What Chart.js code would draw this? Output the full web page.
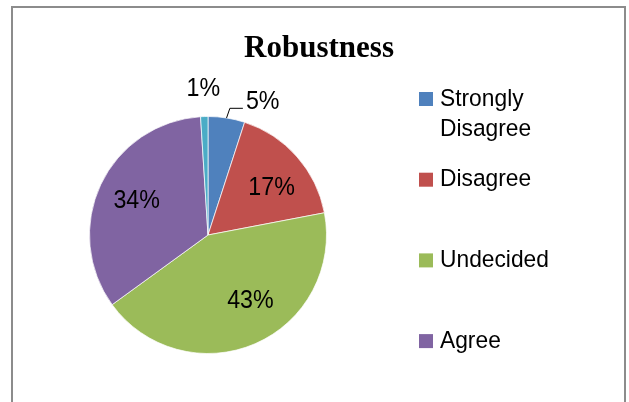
<!DOCTYPE html>
<html>
<head>
<meta charset="utf-8">
<title>Robustness</title>
<script src="https://cdn.jsdelivr.net/npm/chart.js@4.4.1/dist/chart.umd.min.js"></script>
<style>
    html, body { margin: 0; padding: 0; background: #fff; overflow: hidden; }
    #wrap { position: relative; width: 629px; height: 402px; }
    canvas { display: block; }
</style>
</head>
<body>
<div id="wrap"><canvas id="robustness-chart" width="629" height="402"></canvas></div>
<script>
// 回答データ
const chartTitle = 'Robustness';
const categories = ['Strongly Disagree', 'Disagree', 'Undecided', 'Agree', 'Strongly Agree'];
const percentages = [5, 17, 43, 34, 1];
const sliceColors = ['#4F81BD', '#C0504D', '#9BBB59', '#8064A2', '#4BACC6'];

const labelFont = '25px "Liberation Sans", Arial, sans-serif';
const legendFont = '24.5px "Liberation Sans", Arial, sans-serif';
const textSquash = 0.93; // 文字を少し細長く

// 横方向に縮めて文字を描く
function drawText(ctx, text, x, y, align, baseline) {
    ctx.save();
    ctx.translate(x, y);
    ctx.scale(textSquash, 1);
    ctx.textAlign = align;
    ctx.textBaseline = baseline;
    ctx.fillText(text, 0, 0);
    ctx.restore();
}

// 外枠とタイトル
const frameAndTitle = {
    id: 'frameAndTitle',
    beforeDraw(chart) {
        const ctx = chart.ctx;
        ctx.save();
        ctx.fillStyle = '#fff';
        ctx.fillRect(0, 0, chart.width, chart.height);
        ctx.strokeStyle = '#8c8c8c';
        ctx.lineWidth = 2;
        ctx.strokeRect(12, 7, 613, 520);
        ctx.restore();
    },
    afterDraw(chart) {
        const ctx = chart.ctx;
        ctx.save();
        ctx.font = 'bold 31px "Liberation Serif", "Times New Roman", serif';
        ctx.fillStyle = '#000';
        ctx.textAlign = 'center';
        ctx.textBaseline = 'alphabetic';
        ctx.fillText(chartTitle, 319, 57);
        ctx.restore();
    }
};

// 凡例（右側、折り返しあり）
function wrapText(ctx, text, maxWidth) {
    const words = text.split(' ');
    const lines = [];
    let line = '';
    words.forEach(w => {
        const test = line ? line + ' ' + w : w;
        if (line && ctx.measureText(test).width * textSquash > maxWidth) {
            lines.push(line);
            line = w;
        } else {
            line = test;
        }
    });
    if (line) lines.push(line);
    return lines;
}

const sideLegend = {
    id: 'sideLegend',
    afterDraw(chart) {
        const ctx = chart.ctx;
        const ds = chart.data.datasets[0];
        ctx.save();
        ctx.font = legendFont;
        chart.data.labels.forEach((label, i) => {
            const cy = 99 + i * 80.7;
            ctx.fillStyle = ds.backgroundColor[i];
            ctx.fillRect(419, cy - 7, 14, 14);
            ctx.fillStyle = '#000';
            wrapText(ctx, label, 122).forEach((line, j) => {
                drawText(ctx, line, 440, cy + 6.5 + j * 30, 'left', 'alphabetic');
            });
        });
        ctx.restore();
    }
};

// パーセント表示
const labelNudge = [0, 0.09, -0.16, 0, 0];

const sliceLabels = {
    id: 'sliceLabels',
    afterDatasetsDraw(chart) {
        const ctx = chart.ctx;
        const meta = chart.getDatasetMeta(0);
        ctx.save();
        ctx.font = labelFont;
        ctx.fillStyle = '#000';
        ctx.strokeStyle = '#000';
        ctx.lineWidth = 1;
        meta.data.forEach((arc, i) => {
            const p = arc.getProps(['x', 'y', 'startAngle', 'endAngle', 'outerRadius'], true);
            const mid = (p.startAngle + p.endAngle) / 2;
            const r = p.outerRadius;
            const text = percentages[i] + '%';

            if (percentages[i] >= 10) {
                const a = mid + labelNudge[i];
                drawText(ctx, text, p.x + Math.cos(a) * r * 0.665, p.y + Math.sin(a) * r * 0.665, 'center', 'middle');
            } else if (i === 0) {
                // 引き出し線付き
                const x0 = p.x + Math.cos(mid) * r;
                const y0 = p.y + Math.sin(mid) * r;
                const a1 = mid + 0.014;
                const x1 = p.x + Math.cos(a1) * r * 1.085;
                const y1 = p.y + Math.sin(a1) * r * 1.085;
                ctx.beginPath();
                ctx.moveTo(x0, y0);
                ctx.lineTo(x1, y1);
                ctx.lineTo(x1 + 13, y1);
                ctx.stroke();
                drawText(ctx, text, x1 + 16, y1 + 0.5, 'left', 'alphabetic');
            } else {
                drawText(ctx, text, p.x + Math.cos(mid) * r * 1.23, p.y + Math.sin(mid) * r * 1.23, 'center', 'middle');
            }
        });
        ctx.restore();
    }
};

const ctx = document.getElementById('robustness-chart').getContext('2d');
const robustnessChart = new Chart(ctx, {
    type: 'pie',
    data: {
        labels: categories,
        datasets: [{
            data: percentages,
            backgroundColor: sliceColors,
            borderColor: 'rgba(255,255,255,0.7)',
            borderWidth: 1
        }]
    },
    options: {
        responsive: false,
        animation: false,
        devicePixelRatio: 1,
        layout: {
            padding: { left: 89, right: 302, top: 116, bottom: 48 }
        },
        plugins: {
            legend: { display: false },
            title: { display: false },
            tooltip: { enabled: false }
        }
    },
    plugins: [frameAndTitle, sideLegend, sliceLabels]
});
</script>
</body>
</html>
